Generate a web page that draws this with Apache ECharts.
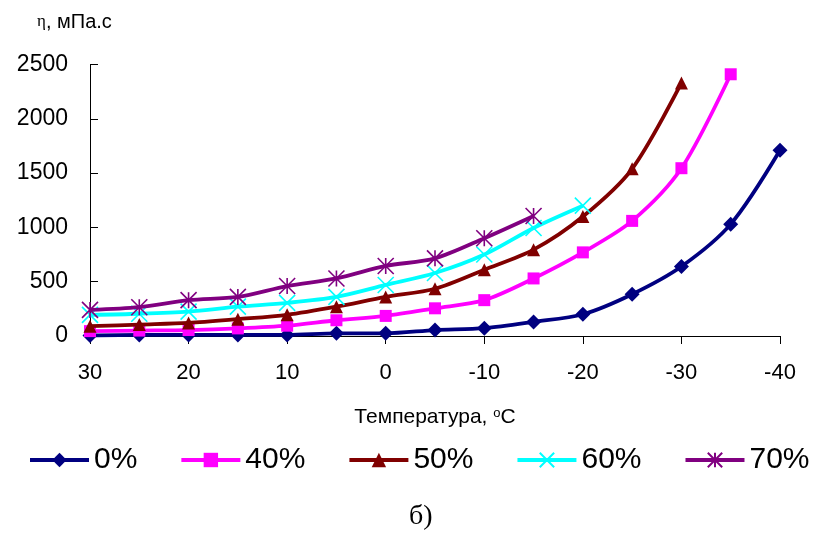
<!DOCTYPE html>
<html><head><meta charset="utf-8">
<script src="https://cdn.jsdelivr.net/npm/echarts@6/dist/echarts.min.js"></script>
<style>html,body{margin:0;padding:0;background:#fff}#c{width:816px;height:543px}</style>
</head><body><div id="c"></div>
<script>
var temps = [30, 25, 20, 15, 10, 5, 0, -5, -10, -15, -20, -25, -30, -35, -40];
var xTicks = [30, 20, 10, 0, -10, -20, -30, -40];
var yTicks = [0, 500, 1000, 1500, 2000, 2500];
var seriesNames = ['0%', '40%', '50%', '60%', '70%'];
var s0  = [5, 10, 10, 10, 10, 25, 25, 55, 72, 130, 200, 385, 640, 1030, 1710];
var s40 = [45, 50, 55, 70, 95, 145, 185, 255, 330, 530, 770, 1060, 1545, 2410];
var s50 = [90, 105, 120, 155, 195, 270, 360, 435, 610, 795, 1100, 1540, 2330];
var s60 = [195, 205, 225, 270, 305, 360, 470, 580, 750, 995, 1200];
var s70 = [240, 265, 330, 360, 460, 530, 645, 715, 900, 1105];

var values = [s0, s40, s50, s60, s70];
var colors = ['#000080', '#FF00FF', '#800000', '#00FFFF', '#800080'];
var symbols = ['diamond', 'rect', 'triangle',
  'path://M0,0L10,10M10,0L0,10',
  'path://M0,0L10,10M10,0L0,10M5,0L5,10'];
var sizes = [15, 12, 13, 16, 16];

function pairs(v) { return v.map(function (y, i) { return [temps[i], y]; }); }

var chart = echarts.init(document.getElementById('c'), null, {renderer: 'canvas'});
var series = values.map(function (v, k) {
  var isPath = k >= 3;
  return {
    name: seriesNames[k], type: 'line', data: pairs(v), smooth: 0.3,
    symbol: symbols[k], symbolSize: sizes[k], clip: false,
    lineStyle: {color: colors[k], width: 3.8},
    itemStyle: isPath ? {color: colors[k], borderColor: colors[k], borderWidth: 1.6}
                      : {color: colors[k], borderWidth: 0},
    emphasis: {disabled: true}, z: 2 + k
  };
});

chart.setOption({
  animation: false,
  grid: {left: 90, right: 36, top: 64.5, bottom: 207, containLabel: false},
  xAxis: {
    type: 'value', inverse: true, min: -40, max: 30, interval: 10,
    name: 'Температура, {sup|o}C', nameLocation: 'middle', nameGap: 71,
    nameTextStyle: {color: '#000', fontFamily: 'Liberation Sans', fontSize: 21,
      rich: {sup: {fontSize: 13, verticalAlign: 'top', padding: [0, 0, 8, 0], fontFamily: 'Liberation Sans', color: '#000'}}},
    axisLine: {onZero: false, lineStyle: {color: '#000', width: 1}},
    axisTick: {show: true, inside: false, length: 8, lineStyle: {color: '#000'}},
    axisLabel: {color: '#000', fontFamily: 'Liberation Sans', fontSize: 22, margin: 26,
      formatter: function (v) { return xTicks.indexOf(v) >= 0 ? String(v) : ''; }},
    splitLine: {show: false}
  },
  yAxis: {
    type: 'value', min: 0, max: 2500, interval: 500,
    axisLine: {show: true, onZero: false, lineStyle: {color: '#000', width: 1}},
    axisTick: {show: true, inside: true, length: 8, lineStyle: {color: '#000'}},
    axisLabel: {color: '#000', fontFamily: 'Liberation Sans', fontSize: 23, margin: 22,
      formatter: function (v) { return yTicks.indexOf(v) >= 0 ? String(v) : ''; }},
    splitLine: {show: false}
  },
  legend: {
    data: seriesNames, left: 23, top: 440, width: 800, itemWidth: 59, itemHeight: 18, itemGap: 42,
    textStyle: {color: '#000', fontFamily: 'Liberation Sans', fontSize: 30, padding: [0, 0, 0, 0]},
    lineStyle: {width: 4},
    selectedMode: false
  },
  graphic: [
    {type: 'text', left: 37, top: 12, style: {
      text: '{eta|η}, мПа.с', fill: '#000', font: '20px "Liberation Sans"',
      rich: {eta: {fontFamily: 'Liberation Serif', fontSize: 17, fill: '#000'}}}},
    {type: 'text', left: 409, top: 503, style: {
      text: 'б)', fill: '#000', font: '28px "Liberation Serif"'}}
  ],
  series: series
});
</script></body></html>
